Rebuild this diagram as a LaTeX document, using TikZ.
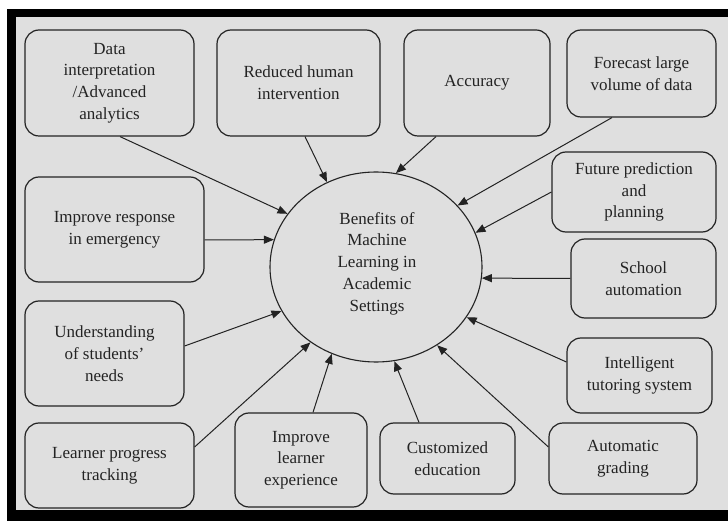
\documentclass[tikz,border=0pt]{standalone}
\usepackage{fontspec}
\setmainfont{Liberation Serif}
\usetikzlibrary{arrows.meta,shapes.geometric}
\definecolor{panel}{RGB}{223,223,223}
\definecolor{ink}{RGB}{35,35,35}
\begin{document}
\begin{tikzpicture}[x=1pt,y=-1pt,
  benefit/.style={draw=ink, line width=1.2pt, rounded corners=14pt, fill=panel,
    align=center, inner sep=0pt, text=ink, font=\fontsize{17}{21.7}\selectfont},
  hub/.style={ellipse, draw=ink, line width=1.1pt, inner sep=0pt,
    minimum width=212pt, minimum height=190pt},
  hublabel/.style={align=center, inner sep=0pt, text=ink, font=\fontsize{17}{21.7}\selectfont},
  link/.style={draw=ink, line width=1pt, -{Triangle[length=10pt,width=8pt]}}]
\useasboundingbox (0,0) rectangle (728,521);
% frame and panel
\fill[white] (0,0) rectangle (728,521);
\fill[black] (7,9) rectangle (728,521);
\fill[panel] (16,17) rectangle (728,510);

% central ellipse
\node[hub] (hub) at (376,267) {};
\node[hublabel] (hubtext) at (377,263.5) {Benefits of\\Machine\\Learning in\\Academic\\Settings};

% surrounding benefits
\node[benefit, minimum width=169pt, minimum height=106pt] (data) at (109.5,83) {Data\\interpretation\\/Advanced\\analytics};
\node[benefit, minimum width=163pt, minimum height=106pt] (red) at (298.5,83) {Reduced human\\intervention};
\node[benefit, minimum width=146pt, minimum height=106pt] (acc) at (477,83) {Accuracy};
\node[benefit, minimum width=149pt, minimum height=87pt] (fore) at (641.5,73.5) {Forecast large\\volume of data};
\node[benefit, minimum width=164pt, minimum height=80pt] (fut) at (634,192) {Future prediction\\and\\planning};
\node[benefit, minimum width=145pt, minimum height=79pt] (school) at (643.5,278.5) {School\\automation};
\node[benefit, minimum width=145pt, minimum height=75pt] (intel) at (639.5,375.5) {Intelligent\\tutoring system};
\node[benefit, minimum width=148pt, minimum height=71pt] (auto) at (623,458.5) {Automatic\\grading};
\node[benefit, minimum width=135pt, minimum height=71pt] (cust) at (447.5,458.5) {Customized\\education};
\node[benefit, minimum width=132pt, minimum height=94pt] (exp) at (301,460) {Improve\\learner\\experience};
\node[benefit, minimum width=169pt, minimum height=85pt] (track) at (109.5,465.5) {Learner progress\\tracking};
\node[benefit, minimum width=159pt, minimum height=105pt] (need) at (104.5,353.5) {Understanding\\of students’\\needs};
\node[benefit, minimum width=179pt, minimum height=105pt] (resp) at (114.5,229.5) {Improve response\\in emergency};

% connectors into the ellipse
\draw[link] ([xshift=10.5pt]data.south) -- (hub.149);
\draw[link] ([xshift=6.5pt]red.south) -- (hub.120.5);
\draw[link] ([xshift=-41pt]acc.south) -- (hub.78.3);
\draw[link] ([xshift=-29.5pt]fore.south) -- (hub.37.4);
\draw[link] (fut.west) -- (hub.19.2);
\draw[link] (school.west) -- (hub.-6);
\draw[link] ([yshift=13.5pt]intel.west) -- (hub.-29.8);
\draw[link] ([yshift=11.5pt]auto.west) -- (hub.-52.8);
\draw[link] ([xshift=-28.5pt]cust.north) -- (hub.-79.4);
\draw[link] ([xshift=12pt]exp.north) -- (hub.-117.8);
\draw[link] ([yshift=18.5pt]track.east) -- (hub.-131.3);
\draw[link] ([yshift=7.5pt]need.east) -- (hub.-155.6);
\draw[link] ([yshift=-10.5pt]resp.east) -- (hub.165);
\end{tikzpicture}
\end{document}
